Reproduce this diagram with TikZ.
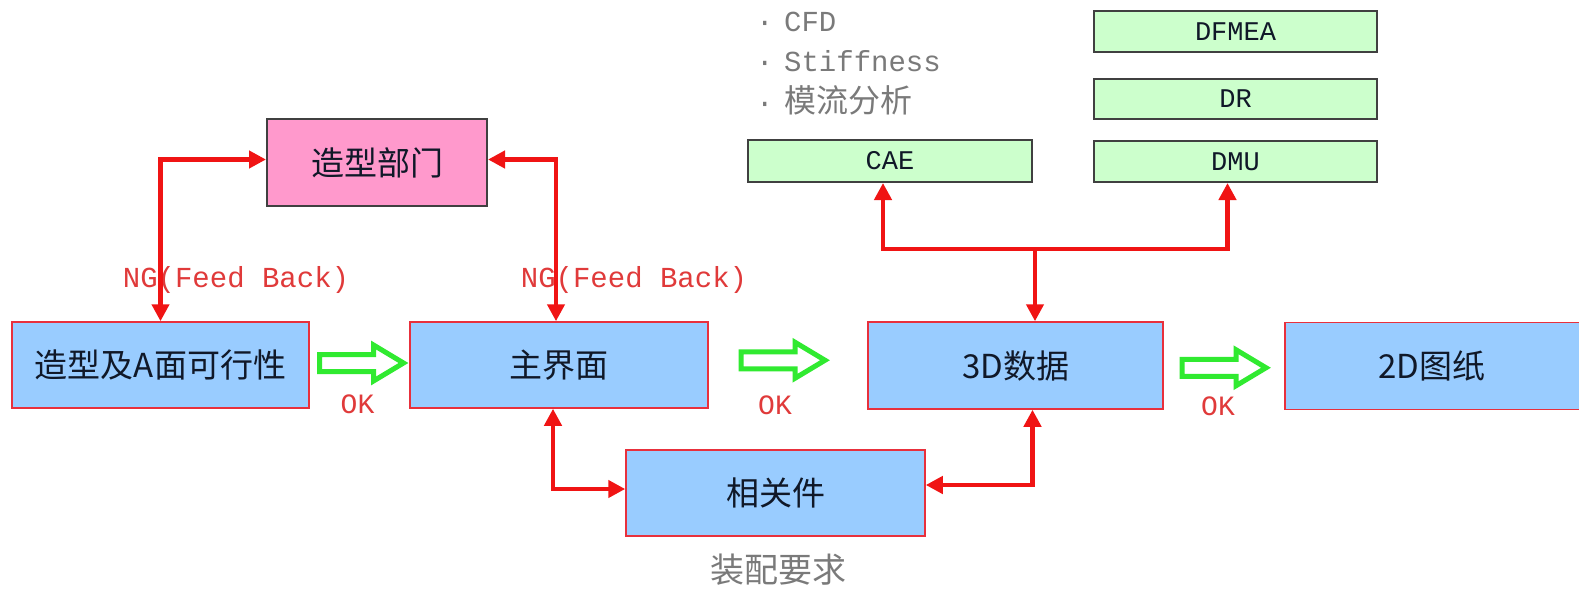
\documentclass[tikz,border=0pt]{standalone}
\usepackage{fontspec}
\setmainfont{Liberation Mono}
\newfontfamily\cjk{Noto Sans CJK SC}
\usetikzlibrary{arrows.meta,calc}
\definecolor{boxblue}{HTML}{99CCFF}
\definecolor{boxred}{HTML}{E8303C}
\definecolor{pinkfill}{HTML}{FF99CC}
\definecolor{greenfill}{HTML}{CCFFCC}
\definecolor{darkedge}{HTML}{404040}
\definecolor{arrred}{HTML}{F01414}
\definecolor{okgreen}{HTML}{30EA30}
\definecolor{labred}{HTML}{E03A3A}
\definecolor{graytxt}{HTML}{7A7A7A}
\definecolor{boxtext}{HTML}{101828}
\begin{document}
\begin{tikzpicture}[x=1pt,y=-1pt,
  mainbox/.style={draw=boxred, line width=1.5pt, fill=boxblue, minimum width=297pt,
    minimum height=86pt, inner sep=0pt, text=boxtext, font=\cjk\fontsize{33}{40}\selectfont},
  pinkbox/.style={mainbox, draw=darkedge, line width=2pt, fill=pinkfill, minimum width=220pt, minimum height=87pt},
  greenbox/.style={draw=darkedge, line width=2pt, fill=greenfill, minimum width=283pt,
    minimum height=41pt, inner sep=0pt, text=boxtext, font=\fontsize{27}{32}\selectfont},
  fb/.style={draw=arrred, line width=4.5pt, line join=miter,
    {Triangle[length=17pt,width=17pt]}-{Triangle[length=17pt,width=17pt]}},
  tofb/.style={draw=arrred, line width=4.5pt, line join=miter, -{Triangle[length=17pt,width=17pt]}},
  nglab/.style={text=labred, font=\fontsize{29}{34}\selectfont, inner sep=0pt},
  oklab/.style={text=labred, font=\fontsize{28}{32}\selectfont, inner sep=0pt},
  graylab/.style={text=graytxt, font=\fontsize{29}{34}\selectfont, inner sep=0pt, anchor=west},
  okarrow/.pic={\draw[okgreen, line width=5pt, line join=miter, fill=white]
    (-42,-8.5) -- (12,-8.5) -- (12,-18) -- (42,0) -- (12,18) -- (12,8.5) -- (-42,8.5) -- cycle;}
]
\useasboundingbox (0,0) rectangle (1579,589);
\fill[white] (0,0) rectangle (1579,589);

% main boxes
\node[mainbox] (A) at (160.5,365) {造型及A面可行性};
\node[mainbox, minimum width=298pt] (M) at (559,365) {主界面};
\node[mainbox, minimum width=295pt, minimum height=87pt] (D) at (1015.5,365.5) {3D数据};
\node[mainbox, minimum width=298pt, minimum height=87pt] (P) at (1434,366) {\hspace*{-4pt}2D图纸};
\node[mainbox, minimum width=299pt] (R) at (775.5,493) {相关件};
\node[pinkbox] (Z) at (377,162.5) {造型部门};

% green boxes
\node[greenbox, minimum width=284pt, minimum height=42pt] (CAE) at (890,161) {CAE};
\node[greenbox] (DFMEA) at (1235.5,31.5) {DFMEA};
\node[greenbox, minimum height=40pt] (DR) at (1235.5,99) {DR};
\node[greenbox] (DMU) at (1235.5,161.5) {DMU};

% gray texts
\node[graylab] (l1) at (756,22) {\makebox[28pt][l]{·}CFD};
\node[graylab] (l2) at (756,61) {\makebox[28pt][l]{·}Stiffness};
\node[graylab] (l3) at (756,100) {\makebox[28pt][l]{·}{\cjk\fontsize{32}{38}\selectfont 模流分析}};
\node[text=graytxt, font=\cjk\fontsize{34}{40}\selectfont, inner sep=0pt] (req) at (778,570) {装配要求};

% NG labels
\node[nglab] (ng1) at (236,280) {NG(Feed Back)};
\node[nglab] (ng2) at (634,280) {NG(Feed Back)};

% red connectors
\draw[fb] ([yshift=3pt]Z.west) -| (A.north);
\draw[fb] ([yshift=3pt]Z.east) -| ([xshift=-3pt]M.north);
\draw[fb] ([xshift=-6pt]M.south) |- ([yshift=4pt]R.west);
\draw[fb] ([xshift=17pt]D.south) |- ([yshift=8pt]R.east);
\coordinate (J) at (1035,249);
\draw[tofb] (J) -- (J |- D.north);
\draw[tofb] (J) -| ([xshift=-7pt]CAE.south);
\draw[tofb] (J) -| ([xshift=-8pt]DMU.south);

% OK arrows
\path (A.east) -- coordinate[midway] (g1) (M.west);
\path (M.east) -- coordinate[midway] (g2) (D.west);
\path (D.east) -- coordinate[midway] (g3) (P.west);
\pic at ([xshift=2pt,yshift=2pt]g1) {okarrow};
\pic at ([xshift=-5pt,yshift=5pt]g2) {okarrow};
\pic at ([xshift=0pt,yshift=-2pt]g3) {okarrow};
\node[oklab] (ok1) at ($(g1)+(-2,39)$) {OK};
\node[oklab] (ok2) at ($(g2)+(-13,40)$) {OK};
\node[oklab] (ok3) at ($(g3)+(-6,41)$) {OK};
\end{tikzpicture}
\end{document}
